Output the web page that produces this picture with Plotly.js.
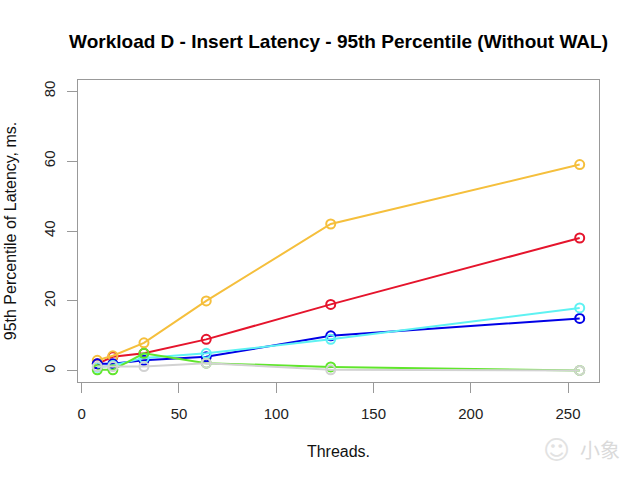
<!DOCTYPE html>
<html>
<head>
<meta charset="utf-8">
<script src="https://cdn.plot.ly/plotly-3.0.1.min.js"></script>
<style>html,body{margin:0;padding:0;background:#fff;}#chart{width:640px;height:480px;}</style>
</head>
<body>
<div id="chart"></div>
<script>
const threads = [8, 16, 32, 64, 128, 256];
const seriesOrange = [3, 4.3, 8, 20, 42, 59];
const seriesRed = [2, 4, 5, 9, 19, 38];
const seriesBlue = [2, 2, 3, 4, 10, 15];
const seriesCyan = [1, 1.5, 3.7, 5, 9, 18];
const seriesGreen = [0.3, 0.3, 5, 2.2, 1.1, 0.1];
const seriesGray = [1.2, 1.2, 1.2, 2.2, 0.3, 0.1];
const xTicks = [0, 50, 100, 150, 200, 250];
const yTicks = [0, 20, 40, 60, 80];

const series = [
  {y: seriesRed, color: '#E5142C'},
  {y: seriesOrange, color: '#F5BF3C'},
  {y: seriesBlue, color: '#0000E6'},
  {y: seriesCyan, color: '#5EF2F2'},
  {y: seriesGreen, color: '#60E62C'},
  {y: seriesGray, color: '#D2D2D2'}
];

const traces = series.map(s => ({
  x: threads, y: s.y, type: 'scatter', mode: 'lines+markers',
  line: {color: s.color, width: 2},
  marker: {symbol: 'circle-open', size: 9, color: s.color, line: {width: 2, color: s.color}},
  showlegend: false, hoverinfo: 'skip'
}));

const font = 'Liberation Sans, Arial, sans-serif';
const layout = {
  width: 640, height: 480,
  margin: {l: 78, r: 41, t: 80, b: 98},
  paper_bgcolor: '#fff', plot_bgcolor: '#fff',
  font: {family: font, color: '#222', size: 14},
  title: {text: '<b>Workload D - Insert Latency - 95th Percentile (Without WAL)</b>',
    font: {family: font, size: 19, color: '#000'}, x: 0.529, xanchor: 'center', y: 0.914, yanchor: 'middle'},
  xaxis: {range: [-1.92, 265.92], tickvals: xTicks, ticktext: xTicks.map(String),
    showgrid: false, zeroline: false, showline: true, mirror: true, linecolor: '#999', linewidth: 1,
    ticks: 'outside', ticklen: 10, tickcolor: '#999', tickwidth: 1, ticklabelstandoff: 8,
    tickfont: {size: 15, color: '#222'},
    title: {text: 'Threads.', font: {size: 16, color: '#111'}, standoff: 24}},
  yaxis: {range: [-3.2, 83.2], tickvals: yTicks, ticktext: yTicks.map(String),
    showgrid: false, zeroline: false, showline: true, mirror: true, linecolor: '#999', linewidth: 1,
    ticks: 'outside', ticklen: 10, tickcolor: '#999', tickwidth: 1, tickangle: -90, ticklabelstandoff: 6,
    tickfont: {size: 15, color: '#222'},
    title: {text: '95th Percentile of Latency, ms.', font: {size: 16, color: '#111'}, standoff: 20}},
  annotations: [
    {text: '小象', xref: 'paper', yref: 'paper', x: 1.002, y: -0.225, xanchor: 'center', yanchor: 'middle',
     showarrow: false, font: {family: 'Noto Sans CJK SC', size: 20, color: '#dadada'}},
    {text: '&#9786;', xref: 'paper', yref: 'paper', x: 0.919, y: -0.225, xanchor: 'center', yanchor: 'middle',
     showarrow: false, font: {family: 'DejaVu Sans', size: 26, color: '#e2e2e2'}}
  ]
};
Plotly.newPlot('chart', traces, layout, {staticPlot: true, displayModeBar: false});
</script>
</body>
</html>
